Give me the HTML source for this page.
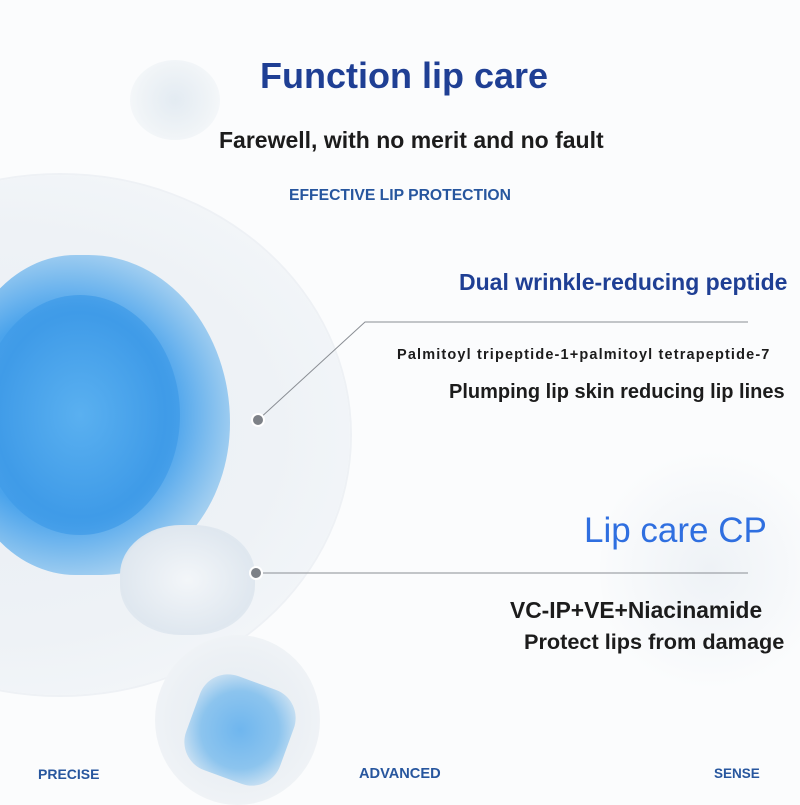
<!DOCTYPE html>
<html><head><meta charset="utf-8"><style>
html,body{margin:0;padding:0}
body{width:800px;height:800px;position:relative;overflow:hidden;background:#fbfcfd;font-family:"Liberation Sans",Arial,sans-serif}
.a{position:absolute}
.t{position:absolute;white-space:nowrap;font-weight:bold}
</style></head><body>
<!-- big sphere -->
<div class="a" style="left:-230px;top:175px;width:580px;height:520px;border-radius:50%;background:radial-gradient(ellipse at 40% 50%,#e9eef4 0%,#eef2f6 55%,#f3f6f9 80%,#f8f9fb 100%);box-shadow:0 0 0 2px #eef1f5"></div>
<div class="a" style="left:-40px;top:255px;width:270px;height:320px;border-radius:45% 55% 50% 45%;background:radial-gradient(ellipse at 40% 50%,#7ec0f2 0%,#4aa3ec 45%,#9fcdf0 72%,rgba(221,233,243,0) 100%);"></div>
<div class="a" style="left:-20px;top:295px;width:200px;height:240px;border-radius:50%;background:radial-gradient(ellipse at 50% 50%,#5ab0f0 0%,#3f9be8 60%,rgba(120,180,230,0) 100%);"></div>
<div class="a" style="left:120px;top:525px;width:135px;height:110px;border-radius:45%;background:radial-gradient(ellipse at 50% 50%,#f3f6f9 0%,#dfe7ef 70%,rgba(230,236,242,0) 100%)"></div>
<div class="a" style="left:130px;top:60px;width:90px;height:80px;border-radius:50%;background:radial-gradient(circle,#e3ebf2 0%,#f0f4f7 60%,rgba(250,250,252,0) 100%)"></div>
<div class="a" style="left:600px;top:440px;width:220px;height:260px;border-radius:50%;background:radial-gradient(circle,#eef2f6 0%,rgba(250,251,252,0) 70%)"></div>
<!-- small sphere -->
<div class="a" style="left:155px;top:635px;width:165px;height:170px;border-radius:50%;background:radial-gradient(circle at 50% 50%,#e4ebf2 0%,#edf1f5 60%,#f6f8fa 100%)"></div>
<div class="a" style="left:190px;top:680px;width:100px;height:100px;border-radius:30%;background:radial-gradient(circle,#6fb6ee 0%,#8cc4ee 55%,rgba(180,210,235,0) 100%);transform:rotate(20deg)"></div>

<svg class="a" style="left:0;top:0" width="800" height="800">
<polyline points="258,420 365,322 748,322" fill="none" stroke="#8a8e94" stroke-width="1"/>
<line x1="256" y1="573" x2="748" y2="573" stroke="#8a8e94" stroke-width="1"/>
<circle cx="258" cy="420" r="6" fill="#7d8187" stroke="#fff" stroke-width="2"/>
<circle cx="256" cy="573" r="6" fill="#7d8187" stroke="#fff" stroke-width="2"/>
</svg>

<div class="t" style="left:260px;top:55px;font-size:36px;color:#1f3f94">Function lip care</div>
<div class="t" style="left:219px;top:127px;font-size:23px;color:#1c1c1c">Farewell, with no merit and no fault</div>
<div class="t" style="left:289px;top:187px;font-size:15.7px;color:#27569e">EFFECTIVE LIP PROTECTION</div>
<div class="t" style="left:459px;top:269px;font-size:23px;color:#1f3f94">Dual wrinkle-reducing peptide</div>
<div class="t" style="left:397px;top:347px;font-size:14.5px;letter-spacing:1.15px;color:#1c1c1c">Palmitoyl tripeptide-1+palmitoyl tetrapeptide-7</div>
<div class="t" style="left:449px;top:381px;font-size:20px;color:#1c1c1c">Plumping lip skin reducing lip lines</div>
<div class="t" style="left:584px;top:511px;font-size:35px;color:#2f6fe0;font-weight:normal">Lip care CP</div>
<div class="t" style="left:510px;top:597px;font-size:22.8px;color:#1c1c1c">VC-IP+VE+Niacinamide</div>
<div class="t" style="left:524px;top:629px;font-size:21.7px;color:#1c1c1c">Protect lips from damage</div>
<div class="t" style="left:38px;top:766px;font-size:14px;color:#27569e">PRECISE</div>
<div class="t" style="left:359px;top:766px;font-size:14.6px;color:#27569e">ADVANCED</div>
<div class="t" style="left:714px;top:766px;font-size:13.5px;color:#27569e">SENSE</div>
</body></html>
